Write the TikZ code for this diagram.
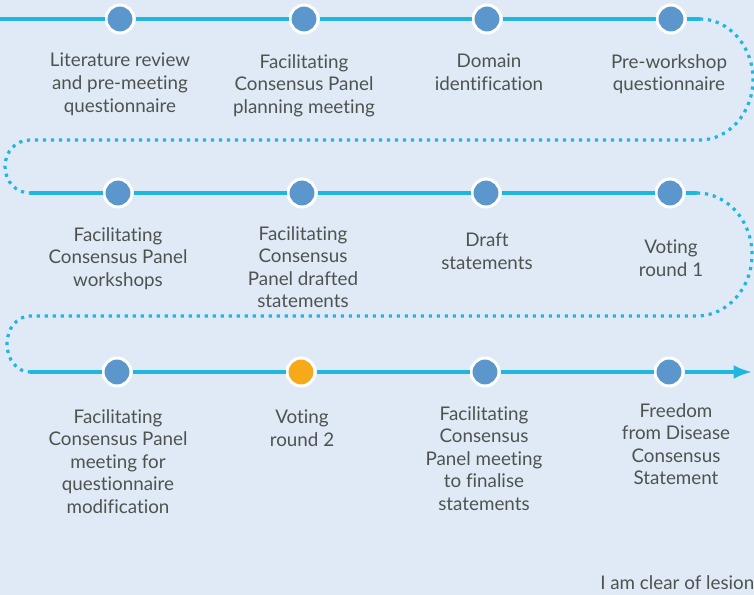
\documentclass[tikz,border=0pt]{standalone}
\usepackage{fontspec}
\setmainfont{Lato}[Ligatures=NoCommon]
\usepackage{tikz}
\usetikzlibrary{arrows.meta}
\tikzset{>=Latex}
\definecolor{paleblue}{HTML}{DFEAF6}
\definecolor{trackblue}{HTML}{1FB6E0}
\definecolor{stageblue}{HTML}{5B97CC}
\definecolor{stageorange}{HTML}{F6AA1A}
\definecolor{textgrey}{HTML}{4F5350}

\begin{document}
\begin{tikzpicture}[x=0.75pt,y=-0.75pt,
    stage/.style={circle,fill=stageblue,draw=white,line width=2.25pt,minimum size=21pt,inner sep=0pt},
    voted/.style={stage,fill=stageorange},
    caption/.style={text=textgrey,align=center,anchor=north,inner sep=0pt,font=\fontsize{14.1}{16.9}\selectfont},
    track/.style={draw=trackblue,line width=2.4pt},
    gaptrack/.style={track,dash pattern=on 2.4pt off 3.6pt}]

  % background and frame
  \fill[paleblue] (0,0) rectangle (754,595);
  \useasboundingbox (0,0) rectangle (754,595);
  \clip (0,0) rectangle (754,595);

  % stages, row by row
  \node[stage] (lit) at (120,19) {};
  \node[stage] (plan) at (304,19) {};
  \node[stage] (domain) at (487,19) {};
  \node[stage] (prews) at (671,19) {};

  \node[stage] (ws) at (118,193) {};
  \node[stage] (drafted) at (302,193) {};
  \node[stage] (draft) at (486,193) {};
  \node[stage] (vote1) at (670,193) {};

  \node[stage] (modify) at (117,372) {};
  \node[voted] (vote2) at (301,372) {};
  \node[stage] (finalise) at (485,372) {};
  \node[stage] (freedom) at (669,372) {};

  % free ends of the track
  \coordinate (start) at (0,19);
  \coordinate (turn1) at (700,19);
  \coordinate (back1) at (700,140);
  \coordinate (left1) at (30,140);
  \coordinate (go2) at (30,193);
  \coordinate (turn2) at (697,193);
  \coordinate (back2) at (697,316);
  \coordinate (left2) at (30,316);
  \coordinate (go3) at (30,372);
  \coordinate (finish) at (752,372);

  % solid track
  \draw[track] (start) -- (lit);
  \draw[track] (lit) -- (plan);
  \draw[track] (plan) -- (domain);
  \draw[track] (domain) -- (prews);
  \draw[track] (prews) -- (turn1);
  \draw[track] (go2) -- (ws);
  \draw[track] (ws) -- (drafted);
  \draw[track] (drafted) -- (draft);
  \draw[track] (draft) -- (vote1);
  \draw[track] (vote1) -- (turn2);
  \draw[track] (go3) -- (modify);
  \draw[track] (modify) -- (vote2);
  \draw[track] (vote2) -- (finalise);
  \draw[track] (finalise) -- (freedom);
  \draw[track,->] (freedom) -- (finish);

  % dotted turns
  \draw[gaptrack] (turn1) .. controls +(29,0) and +(0,-33) .. (753,79.5)
    .. controls +(0,33) and +(29,0) .. (back1) -- (left1)
    .. controls +(-14,0) and +(0,-15) .. (5,166.5)
    .. controls +(0,15) and +(-14,0) .. (go2);
  \draw[gaptrack] (turn2) .. controls +(30,0) and +(0,-34) .. (752,254.5)
    .. controls +(0,34) and +(30,0) .. (back2) -- (left2)
    .. controls +(-13,0) and +(0,-15.5) .. (7,344)
    .. controls +(0,15.5) and +(-13,0) .. (go3);

  % captions
  \node[caption] (litText) at (120,53) {Literature review\\and pre-meeting\\questionnaire};
  \node[caption] (planText) at (304,54) {Facilitating\\Consensus Panel\\planning meeting};
  \node[caption] (domainText) at (489,54) {Domain\\identification};
  \node[caption] (prewsText) at (669,54) {Pre-workshop\\questionnaire};

  \node[caption] (wsText) at (118,227) {Facilitating\\Consensus Panel\\workshops};
  \node[caption] (draftedText) at (303,226) {Facilitating\\Consensus\\Panel drafted\\statements};
  \node[caption] (draftText) at (487,233) {Draft\\statements};
  \node[caption] (vote1Text) at (671,240) {Voting\\round 1};

  \node[caption] (modifyText) at (118,409) {Facilitating\\Consensus Panel\\meeting for\\questionnaire\\modification};
  \node[caption] (vote2Text) at (302,410) {Voting\\round 2};
  \node[caption] (finaliseText) at (484,406) {Facilitating\\Consensus\\Panel meeting\\to finalise\\statements};
  \node[caption] (freedomText) at (676,403) {Freedom\\from Disease\\Consensus\\Statement};

  \node[caption,anchor=north west] (lesion) at (600,575) {I am clear of lesion};
\end{tikzpicture}
\end{document}
